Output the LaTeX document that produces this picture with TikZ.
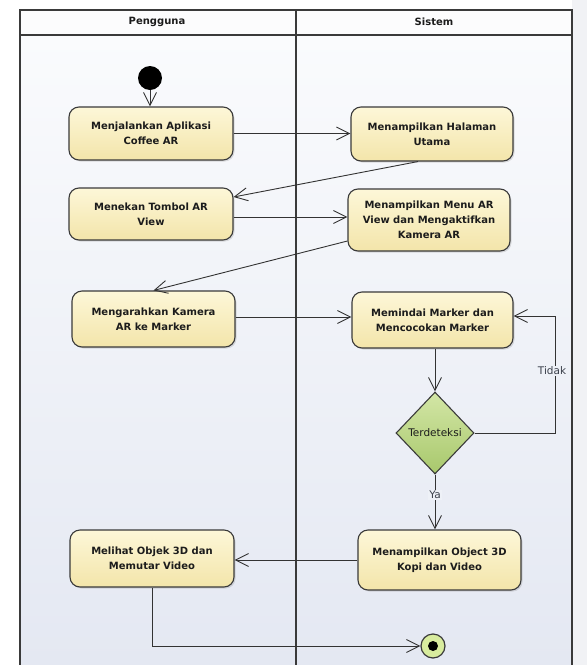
\documentclass[tikz,border=0pt]{standalone}
\usepackage{fontspec}
\setmainfont{DejaVu Sans}
\usetikzlibrary{arrows.meta,shapes.geometric,shadows,calc}

\definecolor{lanetop}{HTML}{FAFBFD}
\definecolor{lanebot}{HTML}{E4E8F2}
\definecolor{lanemid}{HTML}{EEF1F7}
\definecolor{headfill}{HTML}{FCFCFD}
\definecolor{sidestrip}{HTML}{F1F2F5}
\definecolor{edgecol}{HTML}{333333}
\definecolor{bordercol}{HTML}{3A3A3A}
\definecolor{acttop}{HTML}{FDF7D8}
\definecolor{actbot}{HTML}{F3E5AA}
\definecolor{dectop}{HTML}{D3E6A6}
\definecolor{decbot}{HTML}{A8C86C}
\definecolor{endfill}{HTML}{D8EC9E}
\definecolor{txt}{HTML}{1C1C1C}
\definecolor{lbltxt}{HTML}{3A3F4A}

\tikzset{
  act/.style={draw=bordercol, line width=1.1pt, rounded corners=10pt,
    top color=acttop, bottom color=actbot, text=txt, align=center,
    inner sep=2pt, font=\bfseries\fontsize{10}{15}\selectfont,
    drop shadow={shadow xshift=1.5pt, shadow yshift=-1.5pt, opacity=0.25}},
  decision/.style={diamond, draw=bordercol, line width=1.1pt,
    top color=dectop, bottom color=decbot, inner sep=0pt,
    minimum width=78pt, minimum height=82pt, text=txt,
    font=\fontsize{10.5}{12}\selectfont},
  flow/.style={draw=edgecol, line width=0.9pt,
    -{Straight Barb[length=13pt,width=13pt]}},
  lbl/.style={text=lbltxt, font=\fontsize{10.5}{12}\selectfont, inner sep=1pt},
  lanehead/.style={text=txt, font=\bfseries\fontsize{10}{12}\selectfont},
}

\begin{document}
\begin{tikzpicture}[x=1pt,y=-1pt]
\useasboundingbox (0,0) rectangle (587,665);

% swimlane frame
\fill[white] (0,0) rectangle (587,665);
\fill[sidestrip] (572,0) rectangle (587,665);
\fill[headfill] (20,10) rectangle (572,35);
\shade[top color=lanetop, bottom color=lanebot] (20,35) rectangle (572,665);
\draw[bordercol, line width=1.4pt] (20,665) -- (20,10) -- (572,10) -- (572,665);
\draw[bordercol, line width=1.4pt] (20,35) -- (572,35);
\draw[bordercol, line width=1.4pt] (296,10) -- (296,665);
\node[lanehead] (hUser) at (157,21.5) {Pengguna};
\node[lanehead] (hSys) at (434,21.5) {Sistem};

% initial state
\node[circle, fill=black, minimum size=24pt, inner sep=0pt] (start) at (150,78) {};

% activities
\node[act, minimum width=164pt, minimum height=53pt] (a1) at (151,133.5) {Menjalankan Aplikasi\\Coffee AR};
\node[act, minimum width=162pt, minimum height=54pt] (b1) at (432,134) {Menampilkan Halaman\\Utama};
\node[act, minimum width=164pt, minimum height=52pt] (a2) at (151,214) {Menekan Tombol AR\\View};
\node[act, minimum width=162pt, minimum height=62pt] (b2) at (429,220) {Menampilkan Menu AR\\View dan Mengaktifkan\\Kamera AR};
\node[act, minimum width=163pt, minimum height=56pt] (a3) at (153.5,319) {Mengarahkan Kamera\\AR ke Marker};
\node[act, minimum width=161pt, minimum height=56pt] (b3) at (432.5,320) {Memindai Marker dan\\Mencocokan Marker};
\node[decision] (dec) at (435,433) {Terdeteksi};
\node[act, minimum width=163pt, minimum height=60pt] (b4) at (439.5,560) {Menampilkan Object 3D\\Kopi dan Video};
\node[act, minimum width=164pt, minimum height=57pt] (a4) at (152,558.5) {Melihat Objek 3D dan\\Memutar Video};

% final state
\node[circle, draw=bordercol, line width=1.2pt, fill=endfill, minimum size=24pt, inner sep=0pt] (end) at (433,646) {};
\fill[black] (end.center) circle[radius=5pt];

% control flows
\coordinate (loop) at (555,316);
\draw[flow] (start) -- (start |- a1.north);
\draw[flow] (a1.east) -- (a1.east -| b1.west);
\draw[flow] ([xshift=-14pt]b1.south) -- ([yshift=17pt]a2.east);
\draw[flow] ([yshift=-3pt]a2.east) -- ([yshift=-3pt]a2.east -| b2.west);
\draw[flow] ([yshift=-21pt]b2.west) -- (a3.north);
\draw[flow] ([yshift=2pt]a3.east) -- ([yshift=2pt]a3.east -| b3.west);
\draw[flow] (b3.south -| dec.north) -- (dec.north);
\draw[flow] (dec.south) -- (dec.south |- b4.north);
\draw[flow] (dec.east) -| (loop) -- (loop -| b3.east);
\draw[flow] (b4.west) -- (b4.west -| a4.east);
\draw[flow] (a4.south) |- (end.west);

% guard labels
\node[lbl, fill=lanemid] (tidak) at (552,371) {Tidak};
\node[lbl, fill=lanemid] (ya) at (435,495) {Ya};
\end{tikzpicture}
\end{document}
